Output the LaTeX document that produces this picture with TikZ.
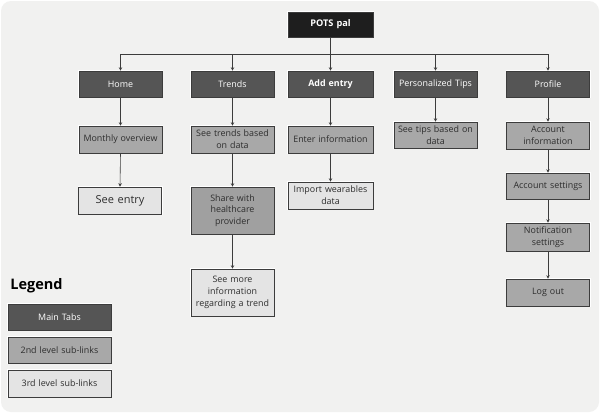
\documentclass[tikz,border=0pt]{standalone}
\usepackage{fontspec}
\setmainfont{Open Sans}
\usetikzlibrary{arrows.meta}
\definecolor{bgc}{HTML}{F1F1F0}
\definecolor{topc}{HTML}{1E1E1E}
\definecolor{mainc}{HTML}{555555}
\definecolor{secc}{HTML}{A8A8A8}
\definecolor{thrc}{HTML}{E4E4E4}
\definecolor{edgec}{HTML}{3C3C3C}
\definecolor{txtc}{HTML}{2E2E2E}
\tikzset{
  box/.style={draw=edgec, line width=0.6pt, preaction={draw=white, line width=2pt},
    minimum width=83pt, minimum height=26pt, inner sep=1pt, align=center,
    text width=81pt, font=\fontsize{8.9}{11.8}\selectfont},
  topbox/.style={box, fill=topc, text=white, minimum width=85pt, minimum height=25pt,
    font=\fontsize{9.2}{11}\selectfont\bfseries},
  mainbox/.style={box, fill=mainc, text=white},
  secbox/.style={box, fill=secc, text=txtc},
  thrbox/.style={box, fill=thrc, text=txtc},
  arr/.style={draw=edgec, line width=0.6pt, -{Stealth[length=3.5pt,width=3.5pt]}},
  ln/.style={draw=edgec, line width=0.6pt}
}
\begin{document}
\begin{tikzpicture}[x=1pt,y=-1pt]
\useasboundingbox (0,0) rectangle (600,413);
\fill[white] (0,0) rectangle (600,413);
\fill[bgc, rounded corners=10pt] (1,1) rectangle (599,412);

\node[topbox] (pots) at (330.5,24.5) {POTS pal};

\node[mainbox] (home) at (120.5,84) {Home};
\node[mainbox] (trends) at (232.5,84) {Trends};
\node[mainbox, font=\fontsize{8.9}{11.8}\selectfont\bfseries, minimum width=85pt] (add) at (330.5,84) {Add entry};
\node[mainbox] (tips) at (435.5,84) {Personalized Tips};
\node[mainbox, minimum width=82pt] (profile) at (548,84) {Profile};

\node[secbox, minimum height=27pt] (monthly) at (120.5,139.5) {Monthly overview};
\node[secbox, minimum height=27pt] (seetrends) at (232.5,139.5) {See trends based\\on data};
\node[secbox, minimum height=27pt, minimum width=85pt] (enter) at (330.5,139.5) {Enter information};
\node[secbox] (seetips) at (435.5,135) {See tips based on\\data};
\node[secbox, minimum height=27pt, minimum width=82pt] (accinfo) at (548,135.5) {Account\\information};

\node[thrbox, minimum height=27pt, font=\fontsize{11}{13}\selectfont] (seeentry) at (120,200.5) {See entry};
\node[secbox, minimum height=47pt, fill=secc!95!black] (share) at (232.5,210.5) {Share with\\healthcare\\provider};
\node[thrbox, minimum height=27pt, minimum width=85pt] (import) at (330.5,195.5) {Import wearables\\data};
\node[secbox, minimum width=82pt] (accset) at (548,186) {Account settings};
\node[secbox, minimum height=28pt, minimum width=82pt] (notif) at (548,237) {Notification\\settings};
\node[secbox, minimum height=27pt, minimum width=82pt] (logout) at (548,292.5) {Log out};
\node[thrbox, minimum height=47pt] (seemore) at (232.5,292.5) {See more\\information\\regarding a trend};

\node[font=\fontsize{14.5}{16}\selectfont\bfseries, text=black, inner sep=0pt] (legend) at (36.5,286) {Legend};
\node[mainbox, minimum width=103pt, text width=100pt] (lgmain) at (59.5,317) {Main Tabs};
\node[secbox, minimum width=103pt, text width=100pt] (lgsec) at (59.5,350) {2nd level sub-links};
\node[thrbox, minimum width=103pt, minimum height=27pt, text width=100pt] (lgthr) at (59.5,383.5) {3rd level sub-links};

\coordinate (bus) at (330.5,54);
\draw[ln] (pots.south) -- (bus);
\draw[arr] (bus) -| (home.north);
\draw[arr] (bus) -| (trends.north);
\draw[arr] (pots.south) -- (add.north);
\draw[arr] (bus) -| (tips.north);
\draw[arr] (bus) -| (profile.north);

\draw[arr] (home) -- (monthly);
\draw[arr] (monthly.south) -- (seeentry.north);
\draw[arr] (trends) -- (seetrends);
\draw[arr] (seetrends) -- (share);
\draw[arr] (share) -- (seemore);
\draw[arr] (add) -- (enter);
\draw[arr] (enter) -- (import);
\draw[arr] (tips) -- (seetips);
\draw[arr] (profile) -- (accinfo);
\draw[arr] (accinfo) -- (accset);
\draw[arr] (accset) -- (notif);
\draw[arr] (notif) -- (logout);
\end{tikzpicture}
\end{document}
